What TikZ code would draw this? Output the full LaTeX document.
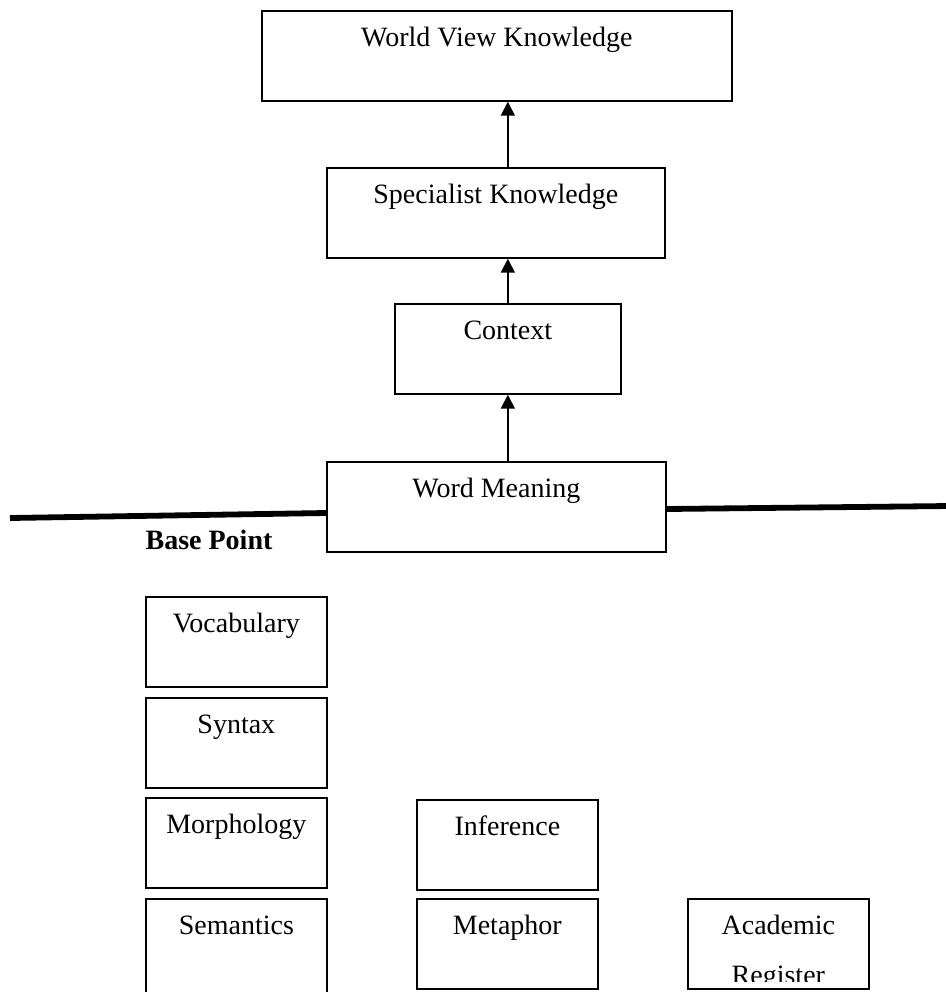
\documentclass[tikz,border=0pt]{standalone}
\usepackage{fontspec}
\setmainfont{Liberation Serif}
\usetikzlibrary{arrows.meta,calc}
\begin{document}
\begin{tikzpicture}[x=0.5pt,y=-0.5pt,
  box/.style={draw, line width=0.85pt, inner sep=0pt, anchor=north west,
    text height=18pt, text depth=27pt, font=\fontsize{14}{16.5}\selectfont},
  smallbox/.style={box, minimum width=90.5pt},
  up/.style={-{Triangle[width=7pt,length=7pt]}, line width=0.8pt},
  baserule/.style={line width=2.9pt},
  lbl/.style={anchor=base, inner sep=0pt, font=\fontsize{14}{16.5}\selectfont}]
\useasboundingbox (0,0) rectangle (946,992);
\clip (0,0) rectangle (946,992);
% upper chain
\node[box, minimum width=235pt] (wv) at (261,10) {World View Knowledge};
\node[box, minimum width=169pt] (spec) at (326,167) {Specialist Knowledge};
\node[box, minimum width=113pt] (ctx) at (394,303) {Context};
\node[box, minimum width=169.5pt] (wm) at (326,461) {Word Meaning};
\draw[up] (ctx.south |- wm.north) -- (ctx.south);
\draw[up] (ctx.north) -- (ctx.north |- spec.south);
\draw[up] (ctx.north |- spec.north) -- (ctx.north |- wv.south);
% base line
\coordinate (L) at (10,518);
\coordinate (R) at (950,506);
\draw[baserule] (L) -- ($(wm.north west)+(0,52)$);
\draw[baserule] ($(wm.north east)+(0,48)$) -- (R);
\node[lbl, font=\bfseries\fontsize{14}{16.5}\selectfont] (bp) at (209,549) {Base Point};
% lower boxes
\node[smallbox] (voc) at (145,596) {Vocabulary};
\node[smallbox] (syn) at (145,697) {Syntax};
\node[smallbox] (mor) at (145,797) {Morphology};
\node[smallbox, text depth=33pt] (sem) at (145,898) {Semantics};
\node[smallbox] (inf) at (416,799) {Inference};
\node[smallbox] (met) at (416,898) {Metaphor};
\node[smallbox] (acad) at (687,898) {Academic};
\begin{scope}
  \clip (acad.north west) rectangle ($(acad.south east)+(0,-8)$);
  \node[lbl] (reg) at ($(acad.north)+(0,86)$) {Register};
\end{scope}
\end{tikzpicture}
\end{document}
